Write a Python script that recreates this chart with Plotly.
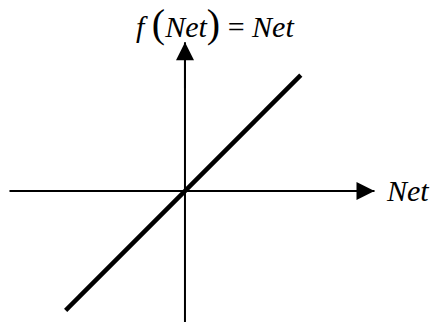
import plotly.graph_objects as go

# Identity activation: f(Net) = Net
net = [-1.02, 0.99]
f_net = [-1.02, 0.99]

# Axis extents (data units)
h_axis_x = [-1.50, 1.62]
v_axis_y = [-1.12, 1.27]

x_label = "Net"
y_label = "f(Net) = Net"

SERIF = "Liberation Serif"

fig = go.Figure()

# horizontal axis line
fig.add_trace(go.Scatter(x=h_axis_x, y=[0, 0], mode="lines",
                         line=dict(color="black", width=2), hoverinfo="skip"))
# vertical axis line
fig.add_trace(go.Scatter(x=[0, 0], y=v_axis_y, mode="lines",
                         line=dict(color="black", width=2), hoverinfo="skip"))
# identity line
fig.add_trace(go.Scatter(x=net, y=f_net, mode="lines",
                         line=dict(color="black", width=4.5), hoverinfo="skip"))

# arrowheads
fig.add_annotation(x=h_axis_x[1], y=0, ax=h_axis_x[1] - 0.4, ay=0,
                   xref="x", yref="y", axref="x", ayref="y",
                   showarrow=True, arrowhead=2, arrowwidth=2, arrowsize=1.8,
                   arrowcolor="black", font=dict(size=1), borderpad=0)
fig.add_annotation(x=0, y=v_axis_y[1], ax=0, ay=v_axis_y[1] - 0.4,
                   xref="x", yref="y", axref="x", ayref="y",
                   showarrow=True, arrowhead=2, arrowwidth=2, arrowsize=1.8,
                   arrowcolor="black", font=dict(size=1), borderpad=0)

# labels
fig.add_annotation(x=1.70, y=0, xref="x", yref="y", xanchor="left", yanchor="middle",
                   text="<i>" + x_label + "</i>", showarrow=False,
                   font=dict(family=SERIF, size=30, color="black"))
fig.add_annotation(x=0.26, xref="x", y=1.0, yref="paper", yanchor="top", xanchor="center",
                   yshift=0, borderpad=0,
                   text="<i>f</i> <span style='font-size:40px'>(</span><i>Net</i>"
                        "<span style='font-size:40px'>)</span> = <i>Net</i>",
                   showarrow=False,
                   font=dict(family=SERIF, size=30, color="black"))

fig.update_layout(
    width=433, height=326,
    margin=dict(l=0, r=0, t=0, b=0),
    paper_bgcolor="white", plot_bgcolor="white",
    showlegend=False,
    xaxis=dict(range=[-1.581, 2.120], visible=False, fixedrange=True),
    yaxis=dict(range=[-1.154, 1.632], visible=False, fixedrange=True),
)

fig.write_html("out.html", config={"displayModeBar": False},
               post_script="document.body.style.margin='0';document.body.style.padding='0';")
